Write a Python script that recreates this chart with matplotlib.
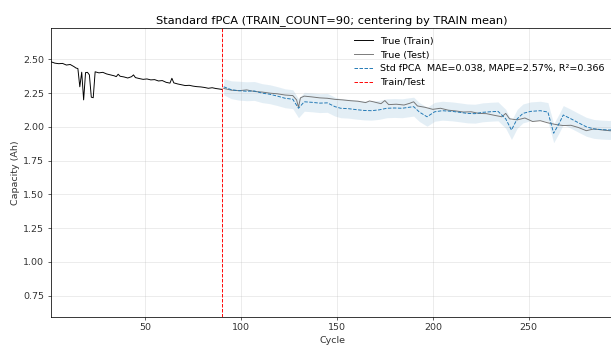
import numpy as np
import matplotlib
matplotlib.use("Agg")
import matplotlib.pyplot as plt

TRAIN_COUNT = 90
N_CYCLES = 294

# True capacity, training part (cycle, Ah)
train_cycle = [1, 3, 5, 7, 9, 11, 13, 14, 15, 16, 17, 18, 19, 20, 21, 22, 23, 24,
               26, 28, 30, 32, 34, 35, 36, 37, 39, 41, 43, 44, 45, 47, 49, 51, 53,
               55, 57, 59, 61, 63, 64, 65, 67, 69, 71, 73, 75, 77, 79, 81, 83, 85,
               87, 89, 90]
train_cap = [2.482, 2.472, 2.468, 2.470, 2.458, 2.462, 2.446, 2.436, 2.432, 2.297,
             2.405, 2.200, 2.402, 2.404, 2.385, 2.220, 2.216, 2.408, 2.400, 2.404,
             2.392, 2.385, 2.378, 2.372, 2.390, 2.375, 2.370, 2.362, 2.372, 2.385,
             2.365, 2.358, 2.352, 2.355, 2.348, 2.350, 2.340, 2.343, 2.330, 2.324,
             2.360, 2.326, 2.318, 2.312, 2.306, 2.308, 2.302, 2.298, 2.296, 2.292,
             2.286, 2.290, 2.284, 2.280, 2.278]

# True capacity, test part
test_cycle = [91, 95, 99, 103, 107, 111, 115, 119, 123, 127, 129, 130, 131, 133,
              137, 141, 145, 149, 153, 157, 161, 165, 167, 169, 173, 175, 177, 181,
              185, 188, 190, 192, 196, 200, 204, 208, 212, 216, 220, 224, 228, 232,
              236, 238, 240, 244, 248, 252, 256, 260, 264, 268, 272, 276, 280, 284,
              288, 292, 294]
test_cap = [2.285, 2.272, 2.268, 2.274, 2.262, 2.258, 2.250, 2.245, 2.236, 2.232,
            2.200, 2.145, 2.215, 2.228, 2.222, 2.215, 2.212, 2.204, 2.200, 2.194,
            2.190, 2.180, 2.192, 2.186, 2.172, 2.195, 2.165, 2.168, 2.162, 2.175,
            2.186, 2.155, 2.145, 2.130, 2.138, 2.124, 2.118, 2.110, 2.112, 2.100,
            2.098, 2.086, 2.075, 2.100, 2.060, 2.052, 2.066, 2.040, 2.046, 2.030,
            2.018, 2.010, 2.012, 1.995, 1.972, 1.985, 1.978, 1.972, 1.970]

# Standard fPCA prediction and its uncertainty half-width
pred_cycle = [91, 95, 99, 103, 107, 111, 115, 119, 123, 127, 130, 133, 137, 141,
              145, 149, 152, 156, 160, 164, 168, 172, 176, 180, 184, 188, 190, 193,
              197, 201, 205, 210, 214, 218, 222, 226, 230, 234, 238, 241, 244, 247,
              251, 256, 260, 263, 266, 268, 272, 276, 280, 284, 288, 292, 294]
pred_cap = [2.297, 2.275, 2.268, 2.264, 2.266, 2.250, 2.242, 2.228, 2.212, 2.205,
            2.138, 2.186, 2.182, 2.176, 2.178, 2.150, 2.138, 2.135, 2.128, 2.122,
            2.120, 2.126, 2.138, 2.140, 2.138, 2.146, 2.150, 2.110, 2.075, 2.112,
            2.120, 2.115, 2.108, 2.100, 2.098, 2.108, 2.112, 2.115, 2.060, 1.977,
            2.060, 2.100, 2.115, 2.120, 2.110, 1.953, 2.030, 2.088, 2.060, 2.030,
            2.001, 1.985, 1.980, 1.977, 1.980]
pred_std = [0.060, 0.066, 0.070, 0.070, 0.070, 0.070, 0.070, 0.070, 0.070, 0.070,
            0.070, 0.070, 0.070, 0.070, 0.070, 0.070, 0.070, 0.070, 0.070, 0.070,
            0.070, 0.070, 0.070, 0.070, 0.070, 0.070, 0.070, 0.070, 0.070, 0.070,
            0.070, 0.070, 0.070, 0.070, 0.070, 0.070, 0.070, 0.070, 0.070, 0.070,
            0.070, 0.070, 0.070, 0.070, 0.070, 0.070, 0.070, 0.070, 0.070, 0.070,
            0.070, 0.070, 0.070, 0.070, 0.070]

mae, mape, r2 = 0.038, 2.57, 0.366

DPI = 68
fig = plt.figure(figsize=(611 / DPI, 345 / DPI), dpi=DPI)
ax = fig.add_axes([0.0835, 0.082, 0.92, 0.836])

p = np.array(pred_cap)
s = np.array(pred_std)
ax.fill_between(pred_cycle, p - s, p + s, color='tab:blue', alpha=0.12, linewidth=0)
ax.plot(train_cycle, train_cap, color='black', lw=1.0, label='True (Train)')
ax.plot(test_cycle, test_cap, color='dimgray', lw=1.0, alpha=0.9, label='True (Test)')
ax.plot(pred_cycle, pred_cap, color='tab:blue', lw=1.0, ls='--',
        label=f'Std fPCA  MAE={mae:.3f}, MAPE={mape:.2f}%, R²={r2:.3f}')
ax.axvline(TRAIN_COUNT, color='red', lw=1.0, ls='--', label='Train/Test')

ax.set_xlim(1, N_CYCLES)
ax.set_ylim(0.595, 2.73)
ax.set_xticks([50, 100, 150, 200, 250])
ax.set_yticks([0.75, 1.00, 1.25, 1.50, 1.75, 2.00, 2.25, 2.50])
ax.tick_params(colors='#333333')
ax.grid(True, alpha=0.3)
ax.set_xlabel('Cycle', color='#333333')
ax.set_ylabel('Capacity (Ah)', color='#333333')
ax.set_title(f'Standard fPCA (TRAIN_COUNT={TRAIN_COUNT}; centering by TRAIN mean)')
ax.legend(loc='upper right', frameon=False)

fig.savefig('out.png', dpi=DPI)
